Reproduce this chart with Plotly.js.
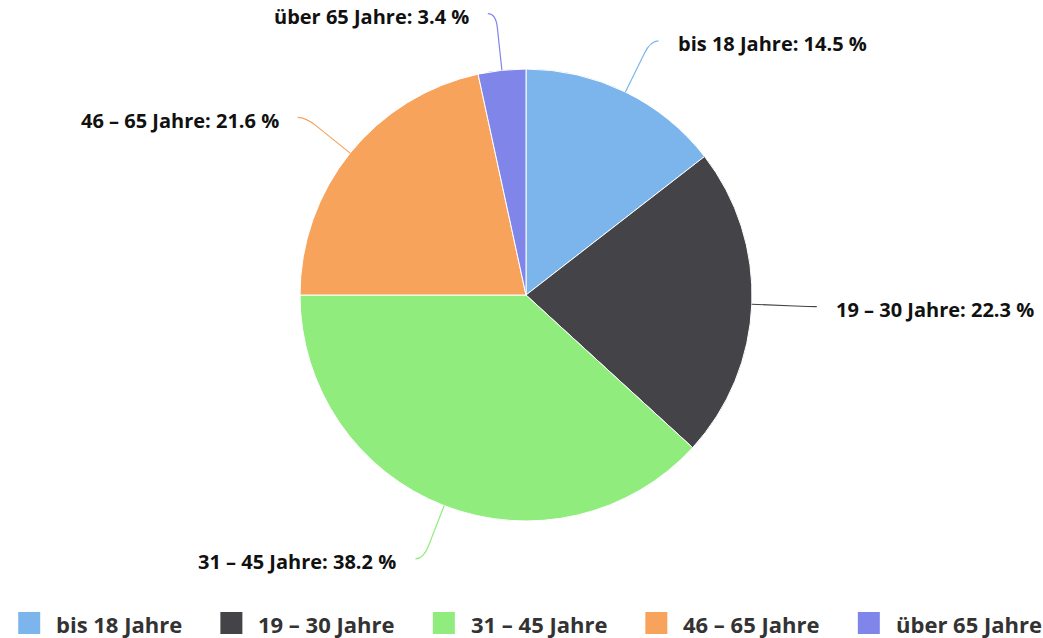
<!DOCTYPE html>
<html>
<head>
<meta charset="utf-8">
<script src="https://cdn.plot.ly/plotly-3.0.1.min.js"></script>
<style>html,body{margin:0;padding:0;background:#fff;}#chart{width:1043px;height:638px;}</style>
</head>
<body>
<div id="chart"></div>
<script>
const categories = ['bis 18 Jahre', '19 – 30 Jahre', '31 – 45 Jahre', '46 – 65 Jahre', 'über 65 Jahre'];
const shares = [14.5, 22.3, 38.2, 21.6, 3.4];
const colors = ['#7cb5ec', '#434348', '#90ed7d', '#f7a35c', '#8085e9'];

const W = 1043, H = 638;
const cx = 526, cy = 295, R = 226, dist = 57;
const px = x => x / W;
const py = y => 1 - y / H;
const FAMILY = '"Open Sans", Lato, sans-serif';

const total = shares.reduce((a, b) => a + b, 0);
const annotations = [];
const shapes = [];

// data labels with connectors, positioned from each slice's mid angle
let cum = 0;
shares.forEach((v, i) => {
  const mid = (cum + v / 2) / total * 2 * Math.PI;
  cum += v;
  const sx = Math.sin(mid), sy = -Math.cos(mid);
  const side = sx >= 0 ? 1 : -1;
  const P0 = [cx + R * sx, cy + R * sy];
  const Pm = [cx + (R + dist - 14) * sx, cy + (R + dist - 14) * sy];
  const L = [cx + (R + dist) * sx, cy + (R + dist) * sy];
  const E = [L[0] + side * 8, L[1]];
  shapes.push({
    type: 'path', xref: 'paper', yref: 'paper',
    path: `M${px(P0[0])},${py(P0[1])} L${px(Pm[0])},${py(Pm[1])} Q${px(L[0])},${py(L[1])} ${px(E[0])},${py(E[1])}`,
    line: {color: colors[i], width: 1.2}
  });
  annotations.push({
    xref: 'paper', yref: 'paper',
    x: px(E[0] + side * 17), y: py(E[1] + 3),
    xanchor: side > 0 ? 'left' : 'right', yanchor: 'middle',
    text: `${categories[i]}: ${v.toFixed(1)} %`,
    showarrow: false,
    font: {family: FAMILY, size: 20, color: '#111', weight: 'bold'}
  });
});

// legend built from the categories
const ctx = document.createElement('canvas').getContext('2d');
ctx.font = 'bold 22px "Open Sans"';
const sym = 22, symGap = 14, itemGap = 40;
const widths = categories.map(c => ctx.measureText(c).width);
const legTotal = widths.reduce((a, w) => a + sym + symGap + w, 0) + itemGap * (categories.length - 1);
let lx = 529 - legTotal / 2;
const ly = 623;
categories.forEach((c, i) => {
  shapes.push({
    type: 'rect', xref: 'paper', yref: 'paper',
    x0: px(lx), x1: px(lx + sym), y0: py(ly - sym / 2), y1: py(ly + sym / 2),
    fillcolor: colors[i], line: {width: 0}
  });
  annotations.push({
    xref: 'paper', yref: 'paper',
    x: px(lx + sym + symGap), y: py(ly + 1),
    xanchor: 'left', yanchor: 'middle', showarrow: false,
    text: c,
    font: {family: FAMILY, size: 22, color: '#333', weight: 'bold'}
  });
  lx += sym + symGap + widths[i] + itemGap;
});

const trace = {
  type: 'pie',
  labels: categories,
  values: shares,
  sort: false,
  direction: 'clockwise',
  rotation: 0,
  textinfo: 'none',
  hoverinfo: 'label+percent',
  marker: {colors: colors, line: {color: '#ffffff', width: 1}},
  domain: {x: [px(cx - R), px(cx + R)], y: [py(cy + R), py(cy - R)]},
  showlegend: false
};

const layout = {
  width: W, height: H,
  margin: {l: 0, r: 0, t: 0, b: 0},
  paper_bgcolor: '#ffffff',
  showlegend: false,
  annotations: annotations,
  shapes: shapes
};

Plotly.newPlot('chart', [trace], layout, {displayModeBar: false, staticPlot: true});
</script>
</body>
</html>
